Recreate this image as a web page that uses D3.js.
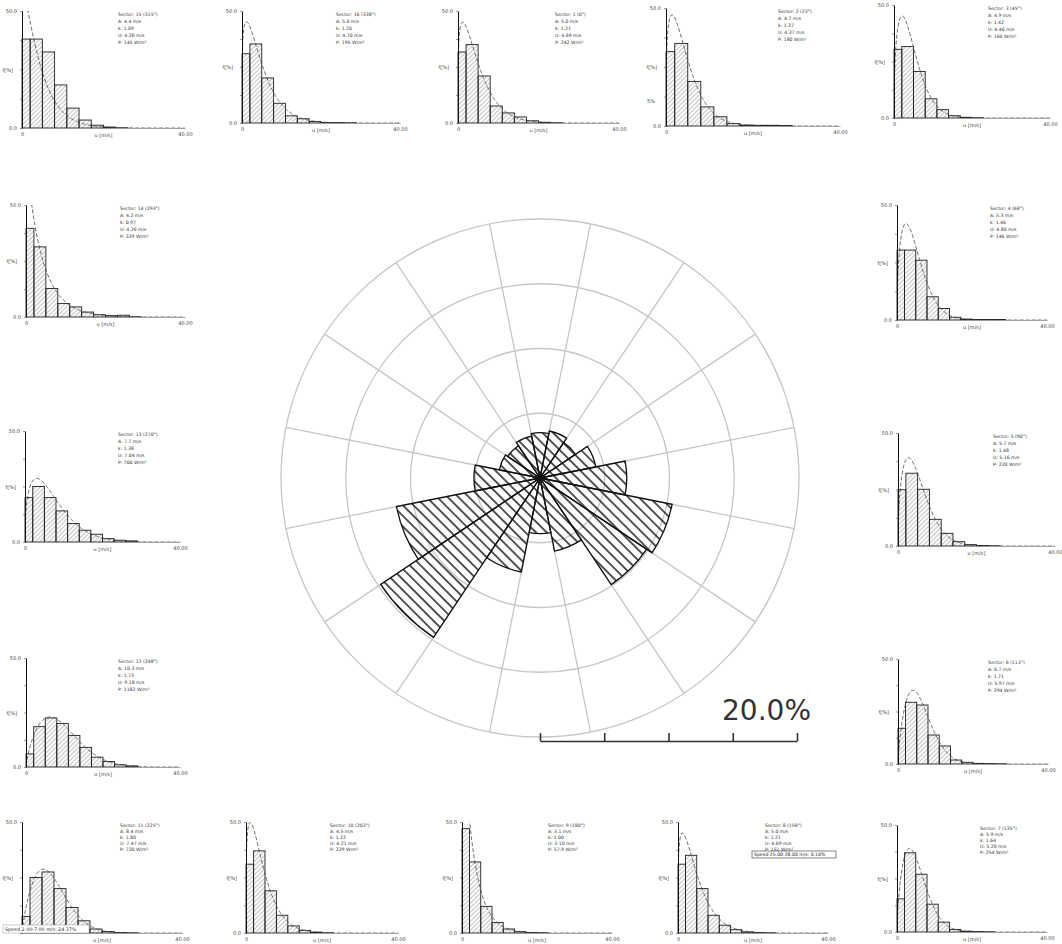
<!DOCTYPE html>
<html><head><meta charset="utf-8">
<script src="https://cdn.jsdelivr.net/npm/d3@7"></script>
<style>
html,body{margin:0;padding:0;background:#fff;}
svg{display:block;}
text{font-family:"DejaVu Sans",Verdana,sans-serif;}
</style></head>
<body>
<svg id="chart" width="1062" height="944"></svg>
<script>
// ---- Sector directions (degrees, clockwise from north) ----
const sectorDirections = [0, 22.5, 45, 67.5, 90, 112.5, 135, 157.5, 180, 202.5, 225, 247.5, 270, 292.5, 315, 337.5];

// ---- Wind rose: frequency of each sector [%] ----
const roseFrequency = [3.5, 3.7, 3.3, 4.4, 6.7, 10.4, 9.9, 5.75, 4.3, 7.4, 14.8, 11.3, 5.1, 3.2, 3.0, 3.3];

// ---- Weibull parameters per sector ----
const weibullA = [5.0, 4.7, 4.9, 5.3, 5.7, 6.7, 5.9, 5.0, 3.1, 4.5, 8.4, 10.3, 7.7, 4.2, 4.4, 5.0];
const weibullK = [1.21, 1.27, 1.42, 1.46, 1.48, 1.71, 1.64, 1.21, 1.00, 1.22, 1.80, 1.73, 1.38, 0.97, 1.09, 1.20];
const meanSpeed = [4.69, 4.37, 4.46, 4.80, 5.16, 5.97, 5.28, 4.69, 3.10, 4.21, 7.47, 9.18, 7.04, 4.26, 4.26, 4.70];
const powerDensity = [242, 180, 160, 146, 220, 294, 254, 151, 57.9, 229, 720, 1182, 700, 329, 145, 195];

// ---- Speed bins [m/s] ----
const binEdges = [0, 2, 5, 8, 11, 14, 17, 20, 23, 26, 29];

// ---- Frequency per speed bin [%] for each sector ----
const hist01 = [31.7, 35.0, 21.0, 7.6, 4.5, 2.7, 1.0, 0.3, 0.1, 0.0];
const hist02 = [31.5, 35.0, 18.9, 8.1, 3.9, 1.0, 0.4, 0.3, 0.3, 0.2];
const hist03 = [30.4, 31.6, 20.6, 8.5, 3.7, 1.0, 0.3, 0.1, 0.0, 0.0];
const hist04 = [30.4, 30.4, 26.0, 10.1, 5.0, 1.2, 0.4, 0.2, 0.2, 0.2];
const hist05 = [24.9, 32.2, 25.1, 11.8, 5.6, 1.9, 0.6, 0.2, 0.1, 0.0];
const hist06 = [17.0, 29.4, 28.1, 13.8, 8.6, 1.9, 0.8, 0.3, 0.2, 0.1];
const hist07 = [15.5, 37.0, 27.0, 13.0, 4.6, 1.2, 0.4, 0.2, 0.1, 0.0];
const hist08 = [31.0, 35.0, 20.0, 8.0, 3.5, 1.5, 0.5, 0.2, 0.1, 0.0];
const hist09 = [47.0, 32.0, 12.0, 4.7, 1.8, 0.6, 0.2, 0.1, 0.0, 0.0];
const hist10 = [31.0, 37.0, 19.0, 8.0, 3.2, 1.2, 0.4, 0.1, 0.0, 0.0];
const hist11 = [7.5, 25.0, 27.5, 20.0, 11.5, 5.5, 1.8, 0.7, 0.2, 0.1];
const hist12 = [6.0, 18.5, 22.5, 20.0, 14.5, 9.0, 4.5, 2.5, 1.0, 0.5];
const hist13 = [20.0, 25.0, 20.0, 14.0, 8.3, 5.3, 3.5, 1.5, 0.8, 0.5];
const hist14 = [39.6, 31.3, 12.7, 6.0, 4.5, 2.2, 1.0, 0.6, 0.8, 0.1];
const hist15 = [38.0, 38.0, 32.5, 18.4, 8.5, 3.4, 1.2, 0.4, 0.1, 0.0];
const hist16 = [30.9, 35.3, 20.1, 8.8, 3.2, 1.9, 0.7, 0.2, 0.2, 0.1];
const histograms = [hist01, hist02, hist03, hist04, hist05, hist06, hist07, hist08,
                    hist09, hist10, hist11, hist12, hist13, hist14, hist15, hist16];

// ---- Axis tick labels of the small plots ----
const yTickLabels = ["0.0", "50.0"];
const xTickLabels = ["0", "40.00"];

// ---- Placement of the small distribution plots around the rose ----
// sector number, y-axis x, plot top, baseline, width of 0..40 m/s, info-block offset
const panelLayout = [
  {s: 15, x: 22,  top: 11,  base: 128, w: 163, tx: 96, ls: 7},
  {s: 16, x: 242, top: 11,  base: 123, w: 158, tx: 94, ls: 7},
  {s: 1,  x: 458, top: 11,  base: 123, w: 161, tx: 97, ls: 7},
  {s: 2,  x: 666, top: 8,   base: 126, w: 174, tx: 112, ls: 7},
  {s: 3,  x: 894, top: 5,   base: 118, w: 156, tx: 94, ls: 7},
  {s: 4,  x: 897, top: 205, base: 320, w: 150, tx: 93, ls: 7},
  {s: 5,  x: 898, top: 433, base: 546, w: 157, tx: 95, ls: 7},
  {s: 6,  x: 898, top: 659, base: 764, w: 150, tx: 90, ls: 7},
  {s: 7,  x: 897, top: 825, base: 932, w: 150, tx: 83, ls: 6},
  {s: 8,  x: 678, top: 822, base: 933, w: 150, tx: 87, ls: 6},
  {s: 9,  x: 462, top: 822, base: 933, w: 150, tx: 86, ls: 6},
  {s: 10, x: 246, top: 822, base: 933, w: 152, tx: 84, ls: 6},
  {s: 11, x: 22,  top: 822, base: 933, w: 160, tx: 98, ls: 6},
  {s: 12, x: 26,  top: 658, base: 767, w: 154, tx: 92, ls: 7},
  {s: 13, x: 25,  top: 431, base: 542, w: 155, tx: 93, ls: 7},
  {s: 14, x: 26,  top: 205, base: 317, w: 159, tx: 94, ls: 7}
];

const svg = d3.select("#chart");
const defs = svg.append("defs");

// hatch for the rose wedges ("\" direction)
defs.append("pattern")
  .attr("id", "roseHatch").attr("patternUnits", "userSpaceOnUse")
  .attr("width", 7.5).attr("height", 7.5).attr("patternTransform", "rotate(-45)")
  .append("line").attr("x1", 3.75).attr("y1", 0).attr("x2", 3.75).attr("y2", 7.5)
  .attr("stroke", "#111").attr("stroke-width", 1.4);

// hatch for histogram bars ("/" direction)
defs.append("pattern")
  .attr("id", "histHatch").attr("patternUnits", "userSpaceOnUse")
  .attr("width", 3.2).attr("height", 3.2).attr("patternTransform", "rotate(45)")
  .append("line").attr("x1", 1.6).attr("y1", 0).attr("x2", 1.6).attr("y2", 3.2)
  .attr("stroke", "#8c8c8c").attr("stroke-width", 0.6);

// ================= Wind rose =================
const cx = 540, cy = 478, R = 259;
const rScale = d3.scaleLinear().domain([0, 20]).range([0, R]);
const rose = svg.append("g").attr("transform", `translate(${cx},${cy})`);
const toRad = d => d * Math.PI / 180;

rose.selectAll("circle.ring").data([5, 10, 15, 20]).join("circle")
  .attr("class", "ring").attr("r", d => rScale(d))
  .attr("fill", "none").attr("stroke", "#c6c6c6").attr("stroke-width", 1.3);

rose.selectAll("line.spoke").data(sectorDirections.map(d => d + 11.25)).join("line")
  .attr("class", "spoke")
  .attr("x1", 0).attr("y1", 0)
  .attr("x2", a => rScale(20) * Math.sin(toRad(a)))
  .attr("y2", a => -rScale(20) * Math.cos(toRad(a)))
  .attr("stroke", "#c6c6c6").attr("stroke-width", 1.3);

const wedge = d3.arc()
  .innerRadius(0)
  .outerRadius(d => rScale(d.f))
  .startAngle(d => toRad(d.dir - 11.25))
  .endAngle(d => toRad(d.dir + 11.25));

const roseData = sectorDirections.map((dir, i) => ({dir, f: roseFrequency[i]}));
rose.selectAll("path.wedge").data(roseData).join("path")
  .attr("class", "wedge").attr("d", wedge)
  .attr("fill", "url(#roseHatch)").attr("stroke", "#111").attr("stroke-width", 1.3)
  .attr("stroke-linejoin", "miter");

// scale bar: 0..20 %
const barScale = d3.scaleLinear().domain([0, 20]).range([0, rScale(20) - 2]);
const scaleBar = svg.append("g").attr("transform", `translate(${cx},741)`)
  .call(d3.axisTop(barScale).tickValues([0, 5, 10, 15, 20]).tickSize(8).tickSizeOuter(0).tickFormat(""));
scaleBar.select(".domain").attr("stroke", "#333").attr("stroke-width", 1.6);
scaleBar.selectAll(".tick line").attr("stroke", "#333").attr("stroke-width", 1.6);
svg.append("text").attr("x", cx + barScale(20) + 14).attr("y", 720)
  .attr("text-anchor", "end").attr("font-size", 28).attr("fill", "#333")
  .text("20.0%");

// ================= Sector distribution plots =================
const curveSamples = d3.range(0.02, 40.01, 0.1);
panelLayout.forEach((p, idx) => {
  const i = p.s - 1;
  const g = svg.append("g");
  const xS = d3.scaleLinear().domain([0, 40]).range([p.x, p.x + p.w]);
  const yS = d3.scaleLinear().domain([0, 50]).range([p.base, p.top]);
  const clipId = "clip" + idx;
  defs.append("clipPath").attr("id", clipId).append("rect")
    .attr("x", p.x).attr("y", p.top).attr("width", p.w).attr("height", p.base - p.top);

  // histogram bars
  const bars = histograms[i].map((v, j) => ({x0: binEdges[j], x1: binEdges[j + 1], v}))
    .filter(d => d.v > 0);
  g.selectAll("rect.bar").data(bars).join("rect")
    .attr("x", d => xS(d.x0)).attr("width", d => xS(d.x1) - xS(d.x0))
    .attr("y", d => yS(d.v)).attr("height", d => yS(0) - yS(d.v))
    .attr("fill", "url(#histHatch)").attr("stroke", "#222").attr("stroke-width", 0.9);

  // fitted Weibull curve (frequency per 3 m/s bin) from the sector's A and k
  const A = weibullA[i], k = weibullK[i];
  const pdf = u => (k / A) * Math.pow(u / A, k - 1) * Math.exp(-Math.pow(u / A, k)) * 300;
  g.append("path")
    .datum(curveSamples.map(u => [u, Math.min(pdf(u), 60)]))
    .attr("clip-path", `url(#${clipId})`)
    .attr("d", d3.line().x(d => xS(d[0])).y(d => yS(d[1])))
    .attr("fill", "none").attr("stroke", "#444").attr("stroke-width", 0.8)
    .attr("stroke-dasharray", "4,2");

  // x axis (the origin label of sector 11 sits under the speed tool-tip)
  const xAxis = g.append("g").attr("transform", `translate(0,${p.base})`)
    .call(d3.axisBottom(xS).tickValues(p.s === 11 ? [40] : [0, 40]).tickSize(0).tickSizeOuter(0)
      .tickFormat(d => d === 0 ? xTickLabels[0] : xTickLabels[1]));
  xAxis.select(".domain").attr("stroke", "#9a9a9a").attr("stroke-width", 0.9);
  xAxis.selectAll(".tick text").attr("font-size", 5).attr("fill", "#444").attr("dy", "0.9em");
  g.append("text").attr("x", xS(20)).attr("y", p.base + 9).attr("text-anchor", "middle")
    .attr("font-size", 5).attr("fill", "#444").text("u [m/s]");

  // y axis
  const yAxis = g.append("g").attr("transform", `translate(${p.x},0)`)
    .call(d3.axisLeft(yS).tickValues([0, 12.5, 25, 37.5, 50]).tickSize(2).tickSizeOuter(0)
      .tickFormat(d => (d === 0 && p.s !== 11) ? yTickLabels[0] : d === 50 ? yTickLabels[1] : ""));
  yAxis.select(".domain").attr("stroke", "#111").attr("stroke-width", 1);
  yAxis.selectAll(".tick line").attr("stroke", "#555").attr("stroke-width", 0.6);
  yAxis.selectAll(".tick text").attr("font-size", 5).attr("fill", "#444");
  g.append("text").attr("x", p.x - 9).attr("y", (p.top + p.base) / 2 + 2)
    .attr("text-anchor", "end").attr("font-size", 5).attr("fill", "#444").text("f[%]");

  // sector info block
  const lines = [
    `Sector: ${p.s} (${Math.round(sectorDirections[i])}°)`,
    `A: ${weibullA[i].toFixed(1)} m/s`,
    `k: ${weibullK[i].toFixed(2)}`,
    `U: ${meanSpeed[i].toFixed(2)} m/s`,
    `P: ${powerDensity[i]} W/m²`
  ];
  g.append("g").selectAll("text").data(lines).join("text")
    .attr("x", p.x + p.tx).attr("y", (d, j) => p.top + 5 + j * p.ls)
    .attr("font-size", 4.6).attr("fill", "#333").text(d => d);
});

// tool-tip style labels shown in the plots
svg.append("text").attr("x", 647).attr("y", 103).attr("font-size", 5).attr("fill", "#444").text("5%");
const tip = svg.append("g").attr("transform", "translate(752,851)");
tip.append("rect").attr("width", 84).attr("height", 7).attr("fill", "#fff").attr("stroke", "#333").attr("stroke-width", 0.6);
tip.append("text").attr("x", 2).attr("y", 5.3).attr("font-size", 4.6).attr("fill", "#222").text("Speed 25.00-28.00 m/s: 0.10%");
const tip2 = svg.append("g").attr("transform", "translate(3,925)");
tip2.append("rect").attr("width", 86).attr("height", 8).attr("fill", "#fff").attr("stroke", "#999").attr("stroke-width", 0.5);
tip2.append("text").attr("x", 2).attr("y", 6).attr("font-size", 4.8).attr("fill", "#333").text("Speed 2.00-7.00 m/s: 24.37%");
</script>
</body></html>
